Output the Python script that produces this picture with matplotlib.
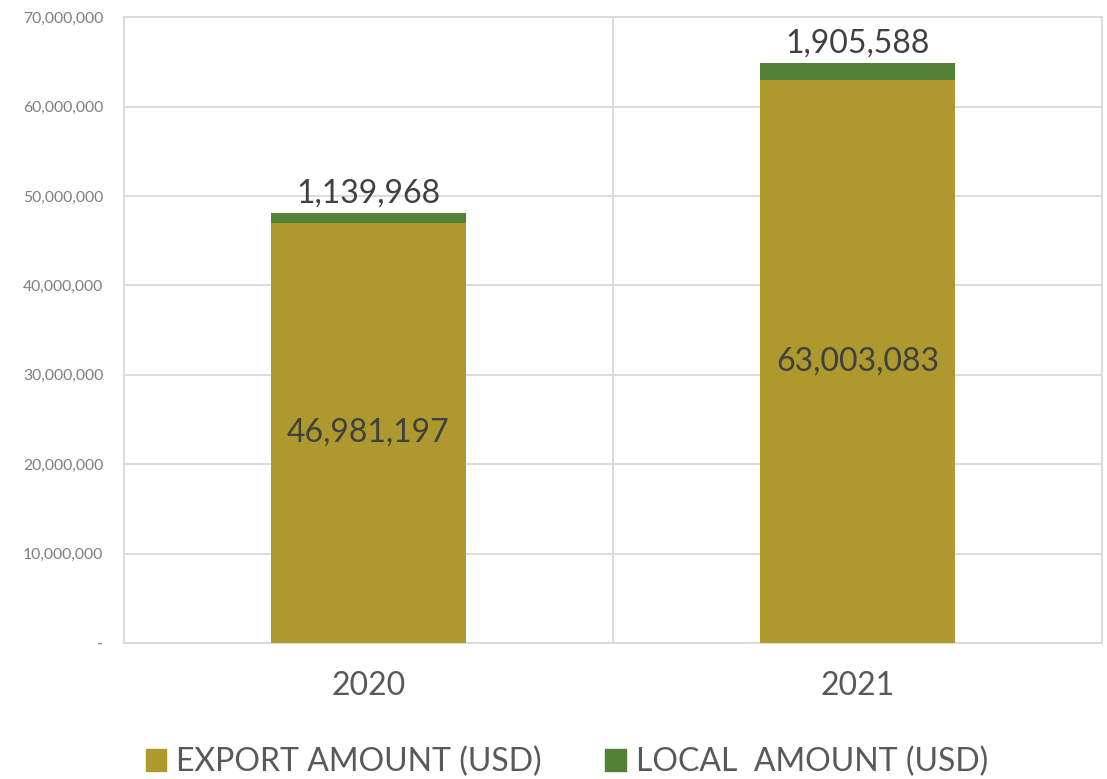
import matplotlib.pyplot as plt
from matplotlib.ticker import FuncFormatter
from matplotlib.patches import Patch
import numpy as np

years = ["2020", "2021"]
export_amt = [46981197, 63003083]
local_amt = [1139968, 1905588]

export_color = "#ad992d"
local_color = "#538135"
grid_color = "#d9d9d9"

plt.rcParams['font.family'] = ['Lato', 'DejaVu Sans']

fig = plt.figure(figsize=(11.07, 7.79), dpi=100)
ax = fig.add_axes([0.112, 0.1746, 0.8835, 0.8034])

x = np.arange(len(years))
w = 0.4
ax.bar(x, export_amt, w, color=export_color, zorder=3)
ax.bar(x, local_amt, w, bottom=export_amt, color=local_color, zorder=3)

for i in range(len(years)):
    ax.text(x[i], export_amt[i] / 2, f"{export_amt[i]:,}", ha="center", va="center",
            fontsize=23, color="#404040", zorder=4)
    ax.text(x[i], export_amt[i] + local_amt[i] + 500000, f"{local_amt[i]:,}", ha="center",
            va="bottom", fontsize=23, color="#404040", zorder=4)

ax.set_xlim(-0.5, 1.5)
ax.set_ylim(0, 70000000)
ax.set_yticks(np.arange(0, 70000001, 10000000))
ax.yaxis.set_major_formatter(FuncFormatter(lambda v, p: "-" if v == 0 else f"{int(v):,}"))
ax.set_xticks(x)
ax.set_xticklabels(years)
ax.tick_params(axis="x", length=0, labelsize=23, labelcolor="#595959", pad=20)
ax.tick_params(axis="y", length=0, labelsize=11.3, labelcolor="#7f7f7f", pad=15)

ax.grid(axis="y", color=grid_color, linewidth=1.3, zorder=0)
ax.axvline(0.5, color=grid_color, linewidth=1.3, zorder=0)
for s in ax.spines.values():
    s.set_color(grid_color)
    s.set_linewidth(1.3)

handles = [Patch(color=export_color, label="EXPORT AMOUNT (USD)"),
           Patch(color=local_color, label="LOCAL  AMOUNT (USD)")]
leg = fig.legend(handles=handles, loc="center", bbox_to_anchor=(0.512, 0.022), ncol=2,
                 frameon=False, fontsize=23, handlelength=0.65, handleheight=0.65,
                 handletextpad=0.3, columnspacing=2.0)
for t in leg.get_texts():
    t.set_color("#595959")

fig.savefig("out.png", dpi=100)
